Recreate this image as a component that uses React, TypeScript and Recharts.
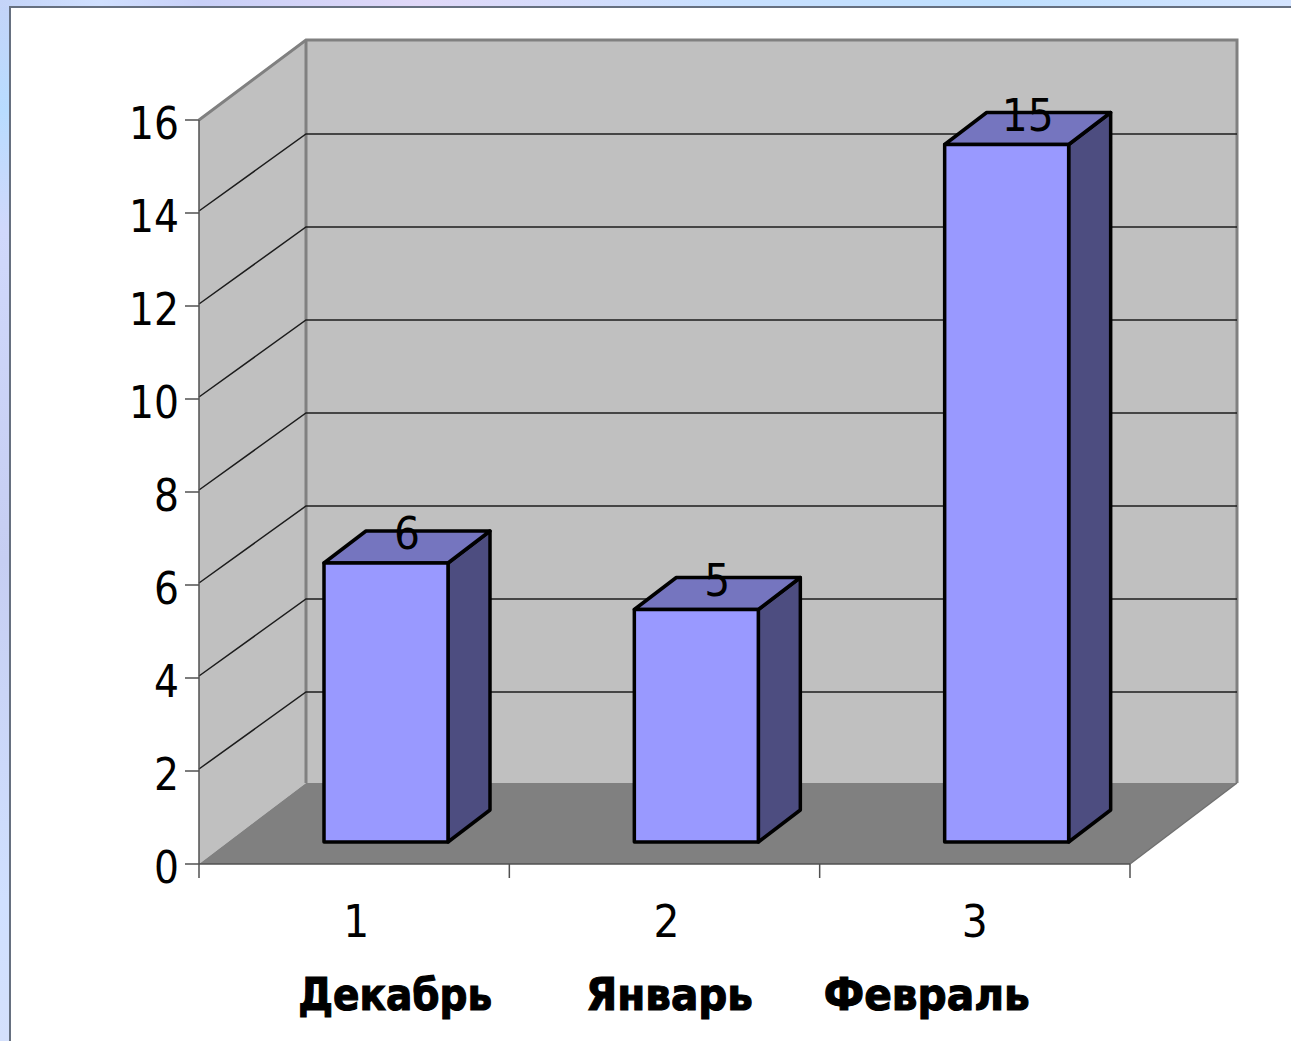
import React from 'react';
import { BarChart, Bar, XAxis, YAxis, CartesianGrid, Customized, LabelList, usePlotArea } from 'recharts';

const categories = ['1', '2', '3'];
const months = ['Декабрь', 'Январь', 'Февраль'];
const values = [6, 5, 15];
const valueTicks = [0, 2, 4, 6, 8, 10, 12, 14, 16];
const edgeTicks = [0, 1, 2, 3];

const chartData = categories.map((category, i) => ({ category, value: values[i], slot: i + 0.5 }));

// layout of the fake 3d box
const WALL_DX = 107;
const WALL_DY = 81;
const BAR_SHIFT_X = 32;
const BAR_SHIFT_Y = 22;
const BAR_DX = 42;
const BAR_DY = 32;

const numberOffsets = [2, 2, 0];
const monthOffsets = [41, 5, -48];
const monthWidths = [194, 167, 206];

const FONT = 'DejaVu Sans';
const WALL_EDGE = '#808080';

function Walls() {
  const area = usePlotArea();
  if (!area) return null;
  const { x, y, width, height } = area;
  const left = x;
  const right = x + width;
  const top = y;
  const bottom = y + height;
  const backTop = top - WALL_DY + 1;
  const backBottom = bottom - WALL_DY;
  return (
    <g>
      <polygon
        points={`${left},${bottom} ${left},${top} ${left + WALL_DX},${backTop} ${left + WALL_DX},${backBottom}`}
        fill="#c0c0c0"
      />
      <rect x={left + WALL_DX} y={backTop} width={width} height={backBottom - backTop} fill="#c0c0c0" />
      <polygon
        points={`${left},${bottom} ${left + WALL_DX},${backBottom} ${right + WALL_DX},${backBottom} ${right},${bottom}`}
        fill="#808080"
      />
      <polyline
        points={`${left},${top} ${left + WALL_DX},${backTop} ${right + WALL_DX},${backTop} ${right + WALL_DX},${backBottom}`}
        fill="none"
        stroke={WALL_EDGE}
        strokeWidth={3}
      />
      <line x1={left + WALL_DX} y1={backTop} x2={left + WALL_DX} y2={backBottom} stroke={WALL_EDGE} strokeWidth={3} />
      <line x1={right} y1={bottom} x2={right + WALL_DX} y2={backBottom} stroke="#707070" strokeWidth={1.5} />
    </g>
  );
}

function gridLine(props: any) {
  const { x1, x2, y1, index } = props;
  if (y1 <= 121 || y1 >= 863) return <g key={index} />;
  return (
    <polyline
      key={index}
      points={`${x1},${y1 - 2} ${x1 + WALL_DX},${y1 - WALL_DY + 2} ${x2 + WALL_DX},${y1 - WALL_DY + 2}`}
      fill="none"
      stroke="#1c1c1c"
      strokeWidth={1.5}
    />
  );
}

function Box(props: any) {
  const { x, y, width, height } = props;
  const l = x + BAR_SHIFT_X;
  const r = l + width;
  const t = y - BAR_SHIFT_Y;
  const b = t + height;
  return (
    <g stroke="#000" strokeWidth={3.5} strokeLinejoin="round">
      <polygon points={`${r},${t} ${r + BAR_DX},${t - BAR_DY} ${r + BAR_DX},${b - BAR_DY} ${r},${b}`} fill="#4d4d80" />
      <polygon points={`${l},${t} ${l + BAR_DX},${t - BAR_DY} ${r + BAR_DX},${t - BAR_DY} ${r},${t}`} fill="#7575bf" />
      <rect x={l} y={t} width={width} height={height} fill="#9999ff" />
    </g>
  );
}

function ValueLabel(props: any) {
  const { x, y, width, value } = props;
  const s = String(value);
  return (
    <text
      x={x + width / 2 + BAR_SHIFT_X + 21}
      y={y - BAR_SHIFT_Y - 14}
      textAnchor="middle"
      textLength={s.length * 26}
      lengthAdjust="spacingAndGlyphs"
      fontFamily={FONT}
      fontSize={44}
      fill="#000"
    >
      {s}
    </text>
  );
}

function ValueTick(props: any) {
  const { x, y, payload } = props;
  const s = String(payload.value);
  return (
    <text
      x={x + 1}
      y={y + 19}
      textAnchor="end"
      textLength={s.length * 25}
      lengthAdjust="spacingAndGlyphs"
      fontFamily={FONT}
      fontSize={44}
      fill="#000"
    >
      {s}
    </text>
  );
}

function CategoryTick(props: any) {
  const { x, index, payload } = props;
  return (
    <g fontFamily={FONT} fill="#000">
      <text
        x={x + numberOffsets[index]}
        y={937}
        textAnchor="middle"
        textLength={26}
        lengthAdjust="spacingAndGlyphs"
        fontSize={44}
      >
        {payload.value}
      </text>
      <text
        x={x + monthOffsets[index]}
        y={1010}
        textAnchor="middle"
        textLength={monthWidths[index]}
        lengthAdjust="spacingAndGlyphs"
        fontSize={44}
        fontWeight="bold"
        stroke="#000"
        strokeWidth={1.2}
      >
        {months[index]}
      </text>
    </g>
  );
}

function EmptyTick() {
  return <g />;
}

export default function App() {
  return (
    <div
      style={{
        position: 'absolute',
        left: 0,
        top: 0,
        width: 1291,
        height: 1041,
        overflow: 'hidden',
        background:
          'linear-gradient(180deg, #c4d4f8 0px, #b8dcff 110px, #d0d8fb 230px, #c6cef2 560px, #d0e0ff 900px, #d4e0fc 1041px)',
      }}
    >
      <div
        style={{
          position: 'absolute',
          left: 0,
          top: 0,
          width: 1291,
          height: 7,
          background:
            'linear-gradient(90deg, #c4d4f8 0px, #d0e0ff 100px, #c8d0f8 200px, #e0d8f8 420px, #c8e0ff 720px, #bfe0ff 1000px, #d4e4ff 1291px)',
        }}
      />
      <div
        style={{
          position: 'absolute',
          left: 9,
          top: 6,
          width: 1282,
          height: 1035,
          background: '#fff',
          borderLeft: '2px solid #667080',
          borderTop: '2px solid #667080',
          boxSizing: 'border-box',
        }}
      />
      <div style={{ position: 'absolute', left: 0, top: 0 }}>
        <BarChart
          width={1291}
          height={1041}
          data={chartData}
          margin={{ top: 120, right: 161, bottom: 0, left: 0 }}
          barSize={124}
        >
          <Customized component={Walls} />
          <CartesianGrid xAxisId="cat" vertical={false} horizontal={gridLine} zIndex={1} />
          <XAxis
            xAxisId="cat"
            dataKey="category"
            height={176}
            axisLine={false}
            tickLine={false}
            tick={CategoryTick}
            interval={0}
          />
          <XAxis
            xAxisId="a_edges"
            dataKey="slot"
            type="number"
            scale="linear"
            domain={[0, 3]}
            ticks={edgeTicks}
            interval={0}
            height={1}
            tick={EmptyTick}
            tickSize={14}
            axisLine={{ stroke: '#505050', strokeWidth: 1.5 }}
            tickLine={{ stroke: '#505050', strokeWidth: 1.5 }}
          />
          <YAxis
            width={199}
            domain={[0, 16]}
            ticks={valueTicks}
            interval={0}
            tickSize={14}
            tickMargin={7}
            tick={ValueTick}
            axisLine={{ stroke: '#505050', strokeWidth: 1.5 }}
            tickLine={{ stroke: '#505050', strokeWidth: 1.5 }}
          />
          <Bar xAxisId="cat" dataKey="value" shape={Box} isAnimationActive={false}>
            <LabelList dataKey="value" content={ValueLabel} />
          </Bar>
        </BarChart>
      </div>
    </div>
  );
}
